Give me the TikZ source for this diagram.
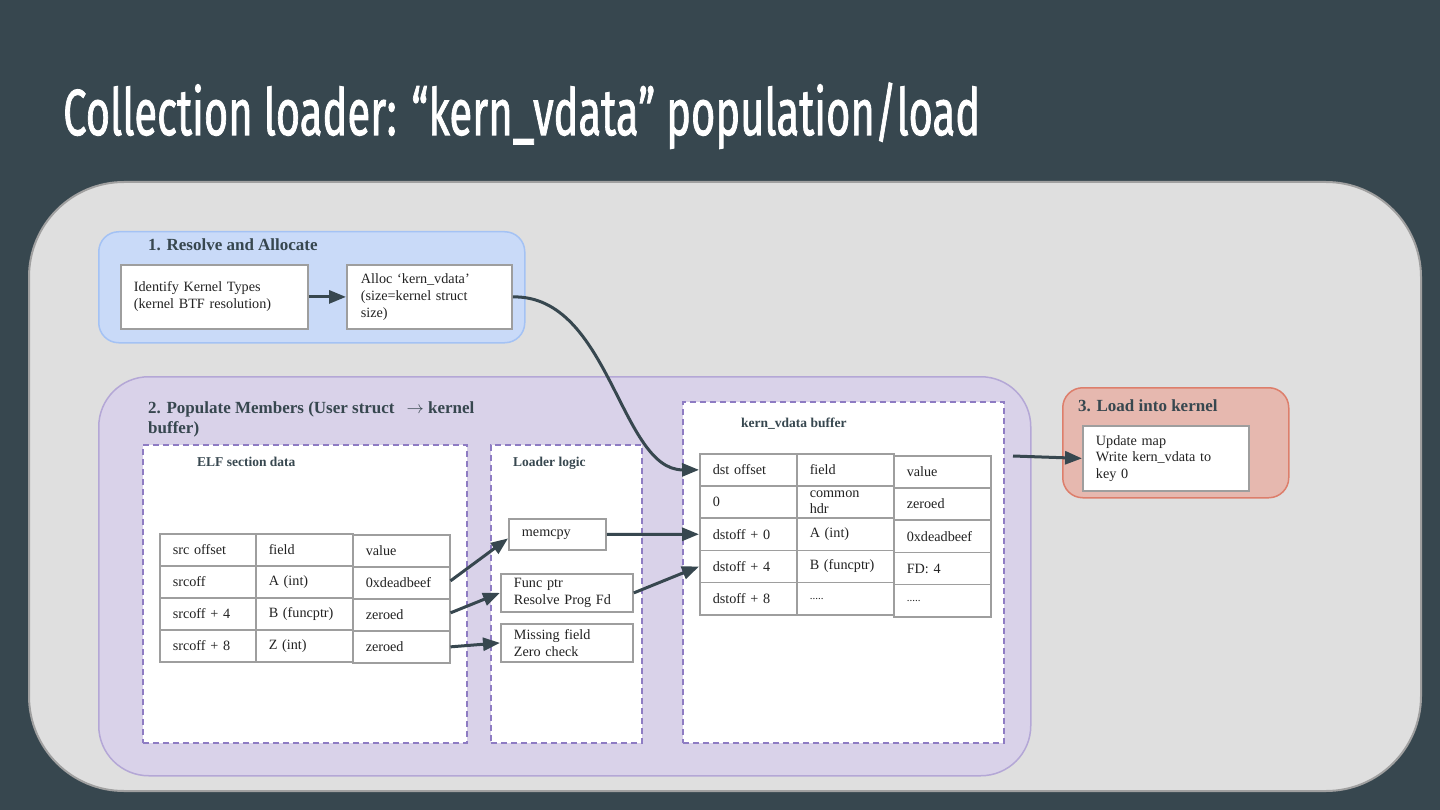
\documentclass[tikz,border=0pt]{standalone}
\usepackage{fontspec}
\usepackage{graphicx}
\setmainfont{Liberation Serif}
\newfontfamily\titlefont[FakeBold=1.6]{Fira Sans}
\usetikzlibrary{arrows.meta}
\definecolor{bgdark}{HTML}{37474F}
\definecolor{outerfill}{HTML}{DFDFDF}
\definecolor{outerline}{HTML}{A0A0A0}
\definecolor{bluefill}{HTML}{C9DAF8}
\definecolor{blueline}{HTML}{A4C2F4}
\definecolor{purpfill}{HTML}{D9D2E9}
\definecolor{purpline}{HTML}{B4A7D6}
\definecolor{redfill}{HTML}{E6B8AF}
\definecolor{redline}{HTML}{DD7E6B}
\definecolor{dashline}{HTML}{8E7CC3}
\definecolor{boxline}{HTML}{9E9E9E}
\definecolor{txt}{HTML}{222222}
\begin{document}
\begin{tikzpicture}[x=1pt,y=-1pt,
  grp/.style={anchor=north west, inner sep=0pt, line width=1.5pt},
  dbox/.style={grp, fill=white, draw=dashline, dash pattern=on 6pt off 4pt},
  gtitle/.style={anchor=base west, inner sep=0pt, text=bgdark, font=\bfseries\fontsize{17}{20}\selectfont, align=left},
  stitle/.style={anchor=base west, inner sep=0pt, text=bgdark, font=\bfseries\fontsize{13.5}{16}\selectfont},
  pbox/.style={anchor=north west, draw=boxline, line width=1.8pt, fill=white, inner sep=0pt, inner xsep=13pt, align=left, text=txt, font=\fontsize{14.2}{17}\selectfont},
  cell/.style={anchor=north west, draw=boxline, line width=1.5pt, fill=white, inner sep=0pt, inner xsep=13pt, text width=71pt, minimum height=32.2pt, align=left, text=txt, font=\fontsize{14.2}{16}\selectfont},
  arr/.style={draw=bgdark, line width=3pt, -{Triangle[length=17pt,width=13pt]}}
]
\fill[bgdark] (0,0) rectangle (1440,810);
\useasboundingbox (0,0) rectangle (1440,810);

\node[anchor=base west, inner sep=0pt, text=white, font=\titlefont\fontsize{65}{70}\selectfont] (title) at (63,135)
  {\resizebox{917pt}{\height}{Collection loader: “kern\_vdata” population/load}};

% containers
\node[grp, draw=outerline, fill=outerfill, line width=2pt, rounded corners=95pt, minimum width=1392pt, minimum height=609pt] (outer) at (28,181) {};
\node[grp, draw=blueline, fill=bluefill, rounded corners=20pt, minimum width=426pt, minimum height=111pt] (g1) at (98,231) {};
\node[grp, draw=purpline, fill=purpfill, rounded corners=50pt, minimum width=932pt, minimum height=399pt] (g2) at (98,376) {};
\node[grp, draw=redline, fill=redfill, rounded corners=20pt, minimum width=226pt, minimum height=110pt] (g3) at (1062,387) {};

\node[gtitle] (t1) at (148,251) {1. Resolve and Allocate};
\node[gtitle] (t2) at (148,433) {2. Populate Members (User struct\hspace{12pt}$\rightarrow$ kernel\\buffer)};
\node[gtitle] (t3) at (1078,411) {3. Load into kernel};

% dashed sub-clusters
\node[dbox, minimum width=324pt, minimum height=298pt] (elf) at (142,444) {};
\node[dbox, minimum width=151pt, minimum height=298pt] (ldr) at (490,444) {};
\node[dbox, minimum width=321pt, minimum height=341pt] (kbuf) at (682,401) {};
\node[stitle] (telf) at (197,466) {ELF section data};
\node[stitle] (tldr) at (513,466) {Loader logic};
\node[stitle] (tkb) at (741,427) {kern\_vdata buffer};

% stage 1 boxes
\node[pbox, text width=161pt, minimum height=64pt] (ident) at (120,264) {Identify Kernel Types\\(kernel BTF resolution)};
\node[pbox, inner xsep=14pt, text width=137pt, minimum height=64pt] (alloc) at (346,264) {Alloc ‘kern\_vdata’\\(size=kernel struct\\size)};

% loader logic boxes
\node[pbox, text width=71pt, minimum height=31pt] (memcpy) at (508,518) {memcpy};
\node[pbox, text width=106pt, minimum height=38pt] (funcptr) at (500,573) {Func ptr\\Resolve Prog Fd};
\node[pbox, text width=106pt, minimum height=38pt] (missing) at (500,623) {Missing field\\Zero check};

% stage 3 box
\node[pbox, text width=140pt, minimum height=65pt, font=\fontsize{14.2}{16.5}\selectfont] (update) at (1082,425) {Update map\\Write kern\_vdata to\\key 0};

% ELF table
\node[cell, text width=70pt] (e00) at (159,533) {src offset};
\node[cell] (e01) at (255,533) {field};
\node[cell] (e02) at (352,534) {value};
\node[cell, text width=70pt] (e10) at (159,565) {srcoff};
\node[cell] (e11) at (255,565) {A (int)};
\node[cell] (e12) at (352,566) {0xdeadbeef};
\node[cell, text width=70pt] (e20) at (159,597) {srcoff + 4};
\node[cell] (e21) at (255,597) {B (funcptr)};
\node[cell] (e22) at (352,598) {zeroed};
\node[cell, text width=70pt] (e30) at (159,629) {srcoff + 8};
\node[cell] (e31) at (255,629) {Z (int)};
\node[cell] (e32) at (352,630) {zeroed};

% kern_vdata table
\node[cell] (k00) at (699,453) {dst offset};
\node[cell] (k01) at (796,453) {field};
\node[cell] (k02) at (893,455) {value};
\node[cell] (k10) at (699,485.2) {0};
\node[cell, font=\fontsize{14.2}{16}\selectfont] (k11) at (796,485.2) {common\\hdr};
\node[cell] (k12) at (893,487.2) {zeroed};
\node[cell] (k20) at (699,517.4) {dstoff + 0};
\node[cell] (k21) at (796,517.4) {A (int)};
\node[cell] (k22) at (893,519.4) {0xdeadbeef};
\node[cell] (k30) at (699,549.6) {dstoff + 4};
\node[cell] (k31) at (796,549.6) {B (funcptr)};
\node[cell] (k32) at (893,551.6) {FD: 4};
\node[cell] (k40) at (699,581.8) {dstoff + 8};
\node[cell] (k41) at (796,581.8) {\fontsize{11}{12}\selectfont .....};
\node[cell] (k42) at (893,583.8) {\fontsize{11}{12}\selectfont .....};

% connectors
\draw[arr] (ident.east) -- (alloc.west);
\draw[arr] (alloc.east) .. controls (610,295) and (620,470) .. (k00.west);
\draw[arr] ([yshift=2pt]e12.east) -- ([yshift=-4pt]memcpy.west);
\draw[arr] ([yshift=2pt]e22.east) -- (funcptr.west);
\draw[arr] (e32.east) -- (missing.west);
\draw[arr] (memcpy.east) -- (k20.west);
\draw[arr] (funcptr.east) -- (k30.west);
\coordinate (kout) at (1013,456);
\draw[arr] (kout) -- (update.west);
\end{tikzpicture}
\end{document}
